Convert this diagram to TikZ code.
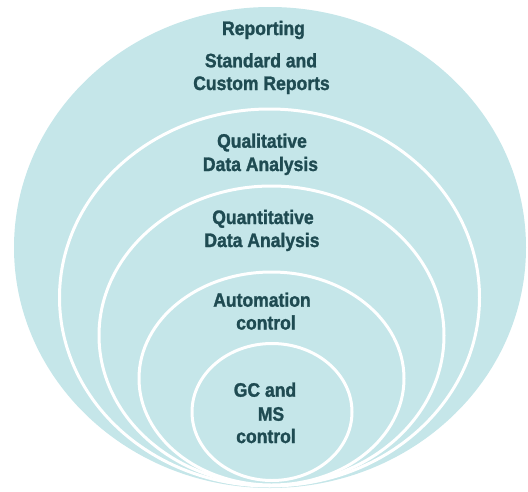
\documentclass[tikz,border=0pt]{standalone}
\usepackage{fontspec}
\setmainfont{Liberation Sans}[FakeStretch=0.9,BoldFont={Liberation Sans Bold},BoldFeatures={FakeStretch=0.9,FakeBold=1.4}]
\definecolor{ringfill}{HTML}{C5E6E9}
\definecolor{labeltext}{HTML}{1F4B52}
\tikzset{
  ring/.style={fill=ringfill, draw=white, line width=3pt},
  outer/.style={fill=ringfill},
  lbl/.style={anchor=base, inner sep=0pt, text=labeltext, font=\bfseries\fontsize{19.5}{24}\selectfont}
}
\begin{document}
\begin{tikzpicture}[x=1pt,y=-1pt]
\useasboundingbox (0,0) rectangle (528,491);
\path[outer] (270,247.5) ellipse [x radius=256, y radius=240.5];
\path[ring] (269.5,297.5) ellipse [x radius=210, y radius=188.5];
\path[ring] (271.5,335.5) ellipse [x radius=172.5, y radius=149.5];
\path[ring] (271.5,378.5) ellipse [x radius=132.5, y radius=106.5];
\path[ring] (272,412) ellipse [x radius=80, y radius=68.5];
\node[lbl] (rep) at (263.5,35) {Reporting};
\node[lbl] (std1) at (261,67.3) {Standard and};
\node[lbl] (std2) at (261.5,90) {Custom Reports};
\node[lbl] (qual1) at (262,147.7) {Qualitative};
\node[lbl] (qual2) at (260.5,171) {Data Analysis};
\node[lbl] (quan1) at (263,224) {Quantitative};
\node[lbl] (quan2) at (262,247) {Data Analysis};
\node[lbl] (auto1) at (262,306.7) {Automation};
\node[lbl] (auto2) at (266,329.5) {control};
\node[lbl] (gc1) at (265,396.7) {GC and};
\node[lbl] (gc2) at (271,420.7) {MS};
\node[lbl] (gc3) at (266,443) {control};
\end{tikzpicture}
\end{document}
